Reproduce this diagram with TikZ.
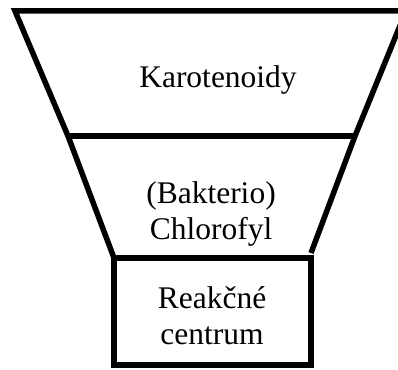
\documentclass[tikz,border=0pt]{standalone}
\usepackage{fontspec}
\setmainfont{Liberation Serif}
\begin{document}
\begin{tikzpicture}[x=1pt,y=-1pt,
  edge/.style={line width=5.5pt, line join=miter},
  lbl/.style={font=\fontsize{31.5}{35.5}\selectfont, align=center, anchor=base, inner sep=0pt}]
\useasboundingbox (0,0) rectangle (398,369);
\begin{scope}
\clip (0,0) rectangle (398,369);
\coordinate (tl) at (15,11);
\coordinate (tr) at (406,11);
\coordinate (ml) at (68,136);
\coordinate (mr) at (355,136);
\coordinate (bl) at (114,258);
\coordinate (brs) at (311,253);
\coordinate (bbr) at (311,365);
\draw[edge] (tr) -- (tl) -- (ml) -- (bl);
\draw[edge] (tr) -- (mr) -- (brs);
\draw[edge] (ml) -- (mr);
\draw[edge] (bl) rectangle (bbr);
\end{scope}
\node[lbl] (karo) at (218,87) {Karotenoidy};
\node[lbl] (chl) at (211,239) {(Bakterio)\\Chlorofyl};
\node[lbl] (rc) at (212,344) {Reakčné\\centrum};
\end{tikzpicture}
\end{document}
